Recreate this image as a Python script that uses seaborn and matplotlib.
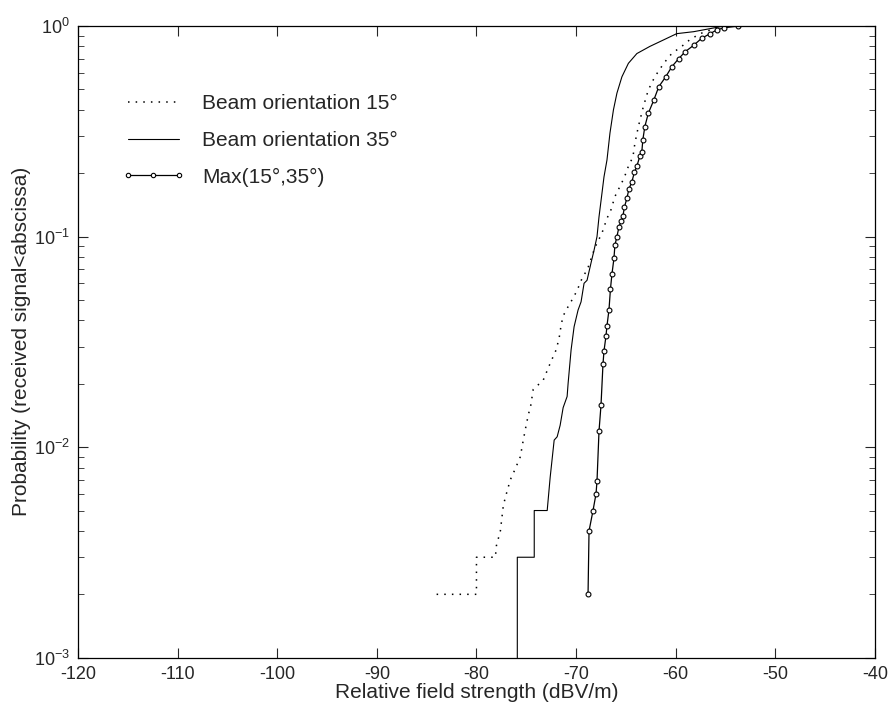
import numpy as np
import pandas as pd
import matplotlib
matplotlib.use("Agg")
import matplotlib.pyplot as plt
import seaborn as sns
from matplotlib.ticker import LogLocator, NullFormatter, FixedLocator

# ---- data ----
x15 = [-84, -80, -80, -78.1, -78.0, -77.6, -77.3, -77.0, -76.6, -76.1, -75.6, -75.3,
       -75.1, -74.8, -74.55, -74.3, -73.3, -72.6, -72.0, -71.7, -71.5, -71.3, -70.8,
       -70.2, -69.8, -69.3, -68.9, -68.1, -67.8, -67.4, -66.9, -66.5, -66.1, -65.6,
       -65.25, -65.0, -64.7, -64.3, -64.1, -63.75, -63.25, -62.75, -62.1, -61.2, -60.4,
       -59.4, -58.6, -57.55, -56.55, -55.6, -54.5]
y15 = [2e-3, 2e-3, 3e-3, 3e-3, 3.4e-3, 4.0e-3, 5.3e-3, 6.0e-3, 7.0e-3, 7.9e-3, 9.0e-3,
       1.08e-2, 1.21e-2, 1.42e-2, 1.58e-2, 1.88e-2, 2.08e-2, 2.5e-2, 2.9e-2, 3.3e-2,
       3.8e-2, 4.2e-2, 4.65e-2, 5.2e-2, 5.7e-2, 6.5e-2, 6.9e-2, 8.9e-2, 9.5e-2, 0.104,
       0.122, 0.134, 0.155, 0.173, 0.187, 0.2, 0.219, 0.238, 0.277, 0.333, 0.414, 0.497,
       0.574, 0.665, 0.74, 0.80, 0.86, 0.92, 0.957, 0.99, 1.0]

x35 = [-75.9, -75.9, -74.2, -74.2, -72.9, -72.6, -72.2, -71.9, -71.6, -71.3, -70.9,
       -70.8, -70.5, -70.2, -69.8, -69.5, -69.2, -68.9, -68.5, -68.2, -67.9, -67.7,
       -67.4, -67.2, -66.9, -66.6, -66.25, -65.9, -65.4, -64.75, -63.9, -62.6, -61.2,
       -59.9, -58.2, -56.9, -55.9, -55.2]
y35 = [1e-3, 3e-3, 3e-3, 5e-3, 5e-3, 7.2e-3, 1.08e-2, 1.12e-2, 1.27e-2, 1.54e-2, 1.74e-2,
       2.01e-2, 2.9e-2, 3.73e-2, 4.48e-2, 4.9e-2, 6.0e-2, 6.2e-2, 7.5e-2, 8.6e-2, 0.1,
       0.124, 0.161, 0.192, 0.231, 0.31, 0.40, 0.48, 0.574, 0.665, 0.74, 0.80, 0.86,
       0.92, 0.94, 0.965, 0.985, 1.0]

xmax = [-68.8, -68.7, -68.3, -68.0, -67.9, -67.7, -67.5, -67.3, -67.2, -67.0, -66.9,
        -66.7, -66.55, -66.4, -66.2, -66.1, -65.9, -65.7, -65.5, -65.3, -65.15, -64.9,
        -64.7, -64.4, -64.15, -63.9, -63.6, -63.4, -63.3, -63.1, -62.75, -62.2, -61.7,
        -61.0, -60.4, -59.7, -59.05, -58.2, -57.4, -56.55, -55.9, -55.2, -53.7]
ymax = [2e-3, 4.0e-3, 5.0e-3, 6.0e-3, 6.9e-3, 1.19e-2, 1.58e-2, 2.48e-2, 2.86e-2,
        3.37e-2, 3.77e-2, 4.48e-2, 5.64e-2, 6.64e-2, 7.88e-2, 9.12e-2, 0.1, 0.111,
        0.118, 0.125, 0.138, 0.152, 0.168, 0.182, 0.202, 0.216, 0.241, 0.253, 0.288,
        0.333, 0.385, 0.445, 0.515, 0.574, 0.64, 0.70, 0.755, 0.81, 0.874, 0.92,
        0.957, 0.98, 1.0]

labels = ["Beam orientation 15°", "Beam orientation 35°", "Max(15°,35°)"]
xticks = [-120, -110, -100, -90, -80, -70, -60, -50, -40]

# ---- style ----
sns.set_style("ticks")
plt.rcParams['font.family'] = ['Liberation Sans', 'DejaVu Sans']
plt.rcParams['axes.unicode_minus'] = False
plt.rcParams['mathtext.fontset'] = 'custom'
plt.rcParams['mathtext.rm'] = 'Liberation Sans'
plt.rcParams['mathtext.it'] = 'Liberation Sans'
plt.rcParams['mathtext.default'] = 'regular'

fig = plt.figure(figsize=(8.93, 7.17), dpi=100)
ax = fig.add_axes([0.0873, 0.0827, 0.8925, 0.881])

d15 = pd.DataFrame({"x": x15, "y": y15})
d35 = pd.DataFrame({"x": x35, "y": y35})
dmx = pd.DataFrame({"x": xmax, "y": ymax})

sns.lineplot(data=d15, x="x", y="y", sort=False, estimator=None, ax=ax,
             color="black", linewidth=1.1, linestyle=(0, (1, 4)), label=labels[0])
sns.lineplot(data=d35, x="x", y="y", sort=False, estimator=None, ax=ax,
             color="black", linewidth=0.8, label=labels[1])
sns.lineplot(data=dmx, x="x", y="y", sort=False, estimator=None, ax=ax,
             color="black", linewidth=0.9, marker="o", markersize=3.5,
             markerfacecolor="white", markeredgecolor="black", markeredgewidth=0.8,
             label=labels[2])

ax.set_yscale("log")
ax.set_xlim(-120, -40)
ax.set_ylim(1e-3, 1)
ax.xaxis.set_major_locator(FixedLocator(xticks))
ax.set_xticklabels([str(t) for t in xticks])
ax.yaxis.set_major_locator(LogLocator(base=10, numticks=10))
ax.yaxis.set_minor_locator(LogLocator(base=10, subs=np.arange(2, 10), numticks=20))
ax.yaxis.set_minor_formatter(NullFormatter())

ax.tick_params(axis="both", which="major", direction="in", length=7, width=0.8,
               top=True, right=True, labelsize=13, pad=6)
ax.tick_params(axis="y", which="minor", direction="in", length=4, width=0.6,
               left=True, right=True)
for s in ax.spines.values():
    s.set_linewidth(0.9)
    s.set_color("black")

ax.set_xlabel("Relative field strength (dBV/m)", fontsize=15, labelpad=0)
ax.set_ylabel("Probability (received signal<abscissa)", fontsize=15, labelpad=2)

leg = ax.legend(loc="upper left", bbox_to_anchor=(0.0627, 0.892), frameon=False,
                fontsize=15, handlelength=2.45, handletextpad=1.1, labelspacing=0.85,
                borderpad=0, borderaxespad=0, markerscale=0.9)
h = leg.legend_handles[2]
if hasattr(h, "set_markevery"):
    h.set_markevery([0, 1, 2])

fig.savefig("out.png", dpi=100)
